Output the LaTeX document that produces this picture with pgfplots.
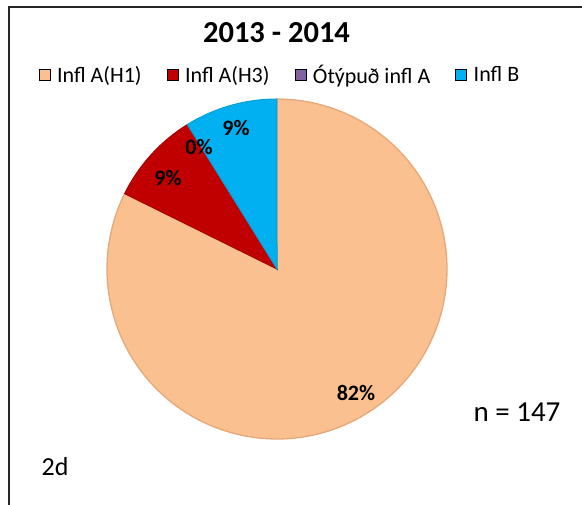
\documentclass[border=0pt]{standalone}
\usepackage{pgfplots}
\usepackage{pgfplotstable}
\pgfplotsset{compat=1.18}
\usepackage{fontspec}
\setmainfont{Carlito}
\definecolor{h1}{HTML}{FAC090}
\definecolor{h1e}{HTML}{E6A878}
\definecolor{h3}{HTML}{C00000}
\definecolor{h3e}{HTML}{A80000}
\definecolor{oty}{HTML}{8064A2}
\definecolor{ib}{HTML}{00B0F0}
\definecolor{ibe}{HTML}{0A9ED6}

\pgfplotstableread{
label count
H1 121
H3 13
Oty 0
B 13
}\piedata
\pgfplotstablegetelem{0}{count}\of\piedata \let\cA\pgfplotsretval
\pgfplotstablegetelem{1}{count}\of\piedata \let\cB\pgfplotsretval
\pgfplotstablegetelem{2}{count}\of\piedata \let\cC\pgfplotsretval
\pgfplotstablegetelem{3}{count}\of\piedata \let\cD\pgfplotsretval
\pgfmathsetmacro\N{\cA+\cB+\cC+\cD}
\pgfmathsetmacro\aO{90}
\pgfmathsetmacro\aA{\aO-360*(\cA/\N)}
\pgfmathsetmacro\aB{\aA-360*(\cB/\N)}
\pgfmathsetmacro\aC{\aB-360*(\cC/\N)}
\pgfmathsetmacro\aD{\aC-360*(\cD/\N)}
\def\cx{277}\def\cy{236}\def\R{170}

\begin{document}%
\begin{tikzpicture}
\begin{axis}[
  width=582bp, height=505bp, scale only axis,
  xmin=0, xmax=582, ymin=0, ymax=505,
  hide axis, clip=false,
  legend columns=4,
  legend style={at={(axis cs:279,430)}, anchor=center, draw=none, fill=none,
    font=\fontsize{22bp}{26bp}\selectfont,
    nodes={inner sep=0pt},
    /tikz/every odd column/.append style={column sep=7bp},
    /tikz/every even column/.append style={column sep=25bp},
    inner sep=0pt},
  legend image code/.code={\fill[#1] (0bp,-5.5bp) rectangle (11bp,5.5bp);},
]
\addplot[forget plot, fill=h1, draw=h1e, line width=1.3bp, domain=\aA:\aO, samples=200, variable=\t]
  ({\cx+\R*cos(\t)},{\cy+\R*sin(\t)}) -- (axis cs:\cx,\cy) -- cycle;
\addplot[forget plot, fill=h3, draw=h3e, line width=1.0bp, domain=\aB:\aA, samples=60, variable=\t]
  ({\cx+\R*cos(\t)},{\cy+\R*sin(\t)}) -- (axis cs:\cx,\cy) -- cycle;
\addplot[forget plot, fill=ib, draw=ibe, line width=1.0bp, domain=\aD:\aC, samples=60, variable=\t]
  ({\cx+\R*cos(\t)},{\cy+\R*sin(\t)}) -- (axis cs:\cx,\cy) -- cycle;

\addlegendimage{fill=h1}\addlegendentry{Infl A(H1)}
\addlegendimage{fill=h3}\addlegendentry{Infl A(H3)}
\addlegendimage{fill=oty}\addlegendentry{Ótýpuð infl A}
\addlegendimage{fill=ib}\addlegendentry{Infl B}

\draw[line width=1.5bp, black!85] (axis cs:9,0) -- (axis cs:9,498) -- (axis cs:582,498);

\node[font=\fontsize{30.5bp}{36bp}\selectfont\bfseries] at (axis cs:276.5,472) {2013 - 2014};
\node[font=\fontsize{22bp}{26bp}\selectfont\bfseries] at (axis cs:356,112) {82\%};
\node[font=\fontsize{22bp}{26bp}\selectfont\bfseries] at (axis cs:168,327) {9\%};
\node[font=\fontsize{22bp}{26bp}\selectfont\bfseries] at (axis cs:199,358) {0\%};
\node[font=\fontsize{22bp}{26bp}\selectfont\bfseries] at (axis cs:236,377) {9\%};
\node[font=\fontsize{29bp}{34bp}\selectfont] at (axis cs:517,93) {n = 147};
\node[font=\fontsize{26bp}{31bp}\selectfont] at (axis cs:55,38) {2d};
\coordinate (bbsw) at (axis cs:0,0);
\coordinate (bbne) at (axis cs:582,505);
\end{axis}
\pgfresetboundingbox
\useasboundingbox (bbsw) rectangle (bbne);
\end{tikzpicture}%
\end{document}
